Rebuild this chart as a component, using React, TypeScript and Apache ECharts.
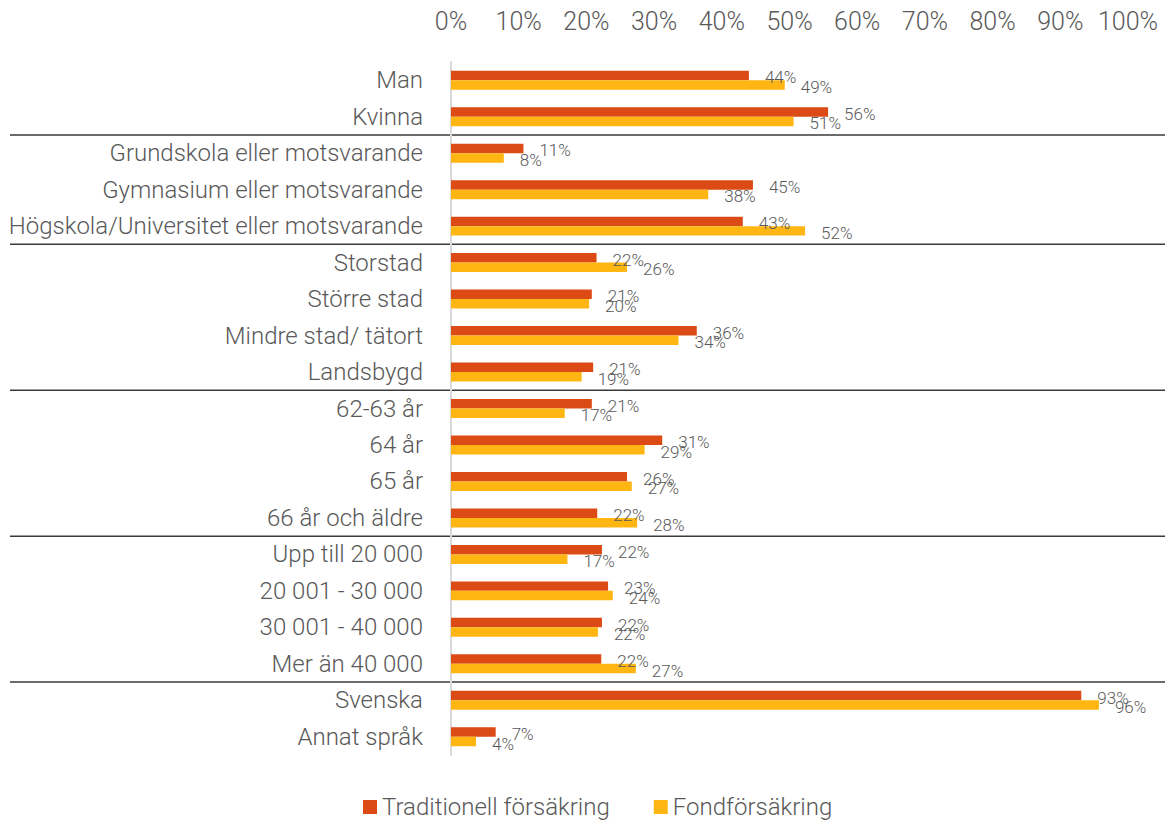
import React, { useEffect, useRef } from "react";
import * as echarts from "echarts";

const categories = [
  "Man",
  "Kvinna",
  "Grundskola eller motsvarande",
  "Gymnasium eller motsvarande",
  "Högskola/Universitet eller motsvarande",
  "Storstad",
  "Större stad",
  "Mindre stad/ tätort",
  "Landsbygd",
  "62-63 år",
  "64 år",
  "65 år",
  "66 år och äldre",
  "Upp till 20 000",
  "20 001 - 30 000",
  "30 001 - 40 000",
  "Mer än 40 000",
  "Svenska",
  "Annat språk",
];

const traditionell = [44.0, 55.7, 10.7, 44.6, 43.1, 21.5, 20.8, 36.3, 21.0, 20.8, 31.2, 26.0, 21.6, 22.3, 23.2, 22.3, 22.2, 93.1, 6.6];
const fond = [49.3, 50.6, 7.8, 38.0, 52.3, 26.0, 20.4, 33.6, 19.3, 16.8, 28.6, 26.7, 27.5, 17.2, 23.9, 21.7, 27.3, 95.7, 3.7];

const seriesNames = ["Traditionell försäkring", "Fondförsäkring"];
// group boundaries: separator drawn before these category indices
const groupStarts = [2, 5, 9, 13, 17];

const FONT = "Roboto";
const WEIGHT = 300;
const TEXT = "#595959";
const RED = "#DC4A15";
const YELLOW = "#FFB612";

export default function App() {
  const ref = useRef<HTMLDivElement>(null);
  useEffect(() => {
    if (!ref.current) return;
    const chart = echarts.init(ref.current, undefined, { renderer: "svg" });
    const labelCfg = {
      show: true,
      position: "right" as const,
      distance: 16,
      offset: [0, 2],
      color: TEXT,
      fontSize: 17,
      fontWeight: WEIGHT,
      fontFamily: FONT,
      formatter: (p: any) => Math.round(p.value) + "%",
    };
    chart.setOption({
      animation: false,
      textStyle: { fontFamily: FONT },
      grid: { left: 451, right: 37, top: 62, bottom: 66, containLabel: false },
      legend: {
        data: seriesNames,
        left: 358,
        top: 790,
        icon: "rect",
        itemWidth: 14,
        itemHeight: 14,
        itemGap: 44,
        textStyle: { fontSize: 24, color: TEXT, fontFamily: FONT, fontWeight: WEIGHT },
      },
      xAxis: {
        type: "value",
        position: "top",
        min: 0,
        max: 100,
        interval: 10,
        axisLine: { show: false },
        axisTick: { show: false },
        splitLine: { show: false },
        axisLabel: {
          formatter: "{value}%",
          fontSize: 25,
          color: TEXT,
          fontFamily: FONT,
          fontWeight: WEIGHT,
          margin: 28,
        },
      },
      yAxis: {
        type: "category",
        data: categories,
        inverse: true,
        axisLine: { show: true, lineStyle: { color: "#d9d9d9", width: 2 } },
        axisTick: { show: false },
        axisLabel: { fontSize: 24, color: TEXT, fontFamily: FONT, fontWeight: WEIGHT, margin: 28 },
      },
      series: [
        {
          name: seriesNames[0],
          type: "bar",
          data: traditionell,
          barGap: "0%",
          barCategoryGap: "48%",
          itemStyle: { color: RED },
          label: labelCfg,
        },
        {
          name: seriesNames[1],
          type: "bar",
          data: fond,
          barGap: "0%",
          barCategoryGap: "48%",
          itemStyle: { color: YELLOW },
          label: labelCfg,
        },
      ],
    });
    const lines = groupStarts.map((i) => {
      const a = chart.convertToPixel({ yAxisIndex: 0 }, categories[i - 1]) as number;
      const b = chart.convertToPixel({ yAxisIndex: 0 }, categories[i]) as number;
      const y = (a + b) / 2;
      return {
        type: "line",
        shape: { x1: 10, y1: y, x2: 1165, y2: y },
        style: { stroke: "#3a3a3a", lineWidth: 1.5 },
        silent: true,
      };
    });
    chart.setOption({ graphic: lines });
    return () => chart.dispose();
  }, []);
  return (
    <div
      ref={ref}
      style={{ position: "fixed", left: 0, top: 0, width: 1165, height: 821, background: "#fff" }}
    />
  );
}
